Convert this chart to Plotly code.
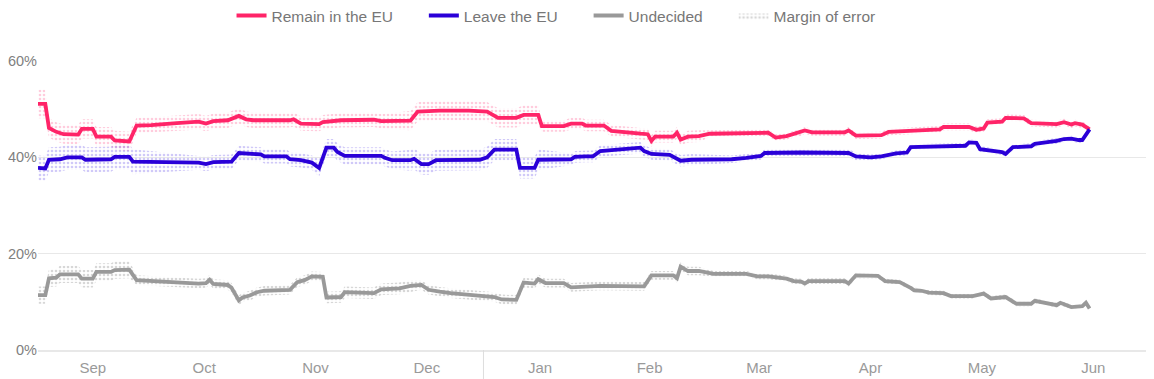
import plotly.graph_objects as go

# ---------------- data ----------------
remain_dates = ["2015-09-01","2015-09-03","2015-09-04","2015-09-06","2015-09-08","2015-09-12","2015-09-13","2015-09-16","2015-09-17","2015-09-21","2015-09-22","2015-09-26","2015-09-28","2015-10-02","2015-10-09","2015-10-15","2015-10-17","2015-10-19","2015-10-23","2015-10-26","2015-10-28","2015-10-30","2015-11-09","2015-11-10","2015-11-12","2015-11-17","2015-11-18","2015-11-23","2015-12-02","2015-12-04","2015-12-12","2015-12-14","2015-12-20","2015-12-28","2016-01-02","2016-01-05","2016-01-10","2016-01-12","2016-01-16","2016-01-17","2016-01-23","2016-01-25","2016-01-28","2016-01-29","2016-02-03","2016-02-05","2016-02-13","2016-02-15","2016-02-16","2016-02-17","2016-02-22","2016-02-23","2016-02-24","2016-02-26","2016-02-29","2016-03-03","2016-03-19","2016-03-21","2016-03-24","2016-03-28","2016-03-29","2016-03-31","2016-04-09","2016-04-10","2016-04-12","2016-04-19","2016-04-21","2016-05-05","2016-05-06","2016-05-13","2016-05-15","2016-05-17","2016-05-18","2016-05-22","2016-05-23","2016-05-28","2016-05-30","2016-06-06","2016-06-08","2016-06-10","2016-06-11","2016-06-13","2016-06-15"]
remain_vals = [51.1,51.1,46.1,45.3,44.8,44.7,45.9,45.9,44.3,44.3,43.5,43.3,46.6,46.7,47.1,47.4,47.0,47.5,47.7,48.6,47.9,47.7,47.7,47.9,47.0,46.9,47.3,47.7,47.8,47.5,47.6,49.5,49.7,49.7,49.5,48.2,48.2,48.8,48.8,46.5,46.5,47.0,47.0,46.6,46.6,45.5,44.9,44.8,43.4,44.3,44.3,45.1,43.7,44.3,44.4,44.9,45.1,44.1,44.4,45.2,45.6,45.2,45.2,45.6,44.5,44.6,45.3,45.8,46.3,46.3,45.7,46.0,47.2,47.4,48.2,48.1,47.1,46.9,47.3,46.8,47.1,46.8,45.8]

leave_dates = ["2015-09-01","2015-09-03","2015-09-04","2015-09-07","2015-09-09","2015-09-13","2015-09-14","2015-09-21","2015-09-22","2015-09-26","2015-09-27","2015-10-15","2015-10-17","2015-10-19","2015-10-24","2015-10-26","2015-11-01","2015-11-02","2015-11-08","2015-11-09","2015-11-12","2015-11-15","2015-11-17","2015-11-19","2015-11-21","2015-11-22","2015-11-24","2015-12-04","2015-12-05","2015-12-07","2015-12-12","2015-12-13","2015-12-15","2015-12-17","2015-12-19","2015-12-31","2016-01-02","2016-01-04","2016-01-10","2016-01-11","2016-01-15","2016-01-16","2016-01-25","2016-01-26","2016-01-29","2016-01-31","2016-02-02","2016-02-13","2016-02-14","2016-02-16","2016-02-21","2016-02-24","2016-02-27","2016-03-09","2016-03-13","2016-03-17","2016-03-18","2016-03-28","2016-04-10","2016-04-12","2016-04-16","2016-04-19","2016-04-23","2016-04-26","2016-04-27","2016-05-12","2016-05-13","2016-05-15","2016-05-16","2016-05-19","2016-05-22","2016-05-23","2016-05-25","2016-05-30","2016-05-31","2016-06-04","2016-06-06","2016-06-08","2016-06-10","2016-06-12","2016-06-13","2016-06-15"]
leave_vals = [37.8,37.7,39.5,39.6,40.0,40.0,39.5,39.6,40.1,40.1,39.1,38.9,38.6,39.0,39.1,40.9,40.6,40.2,40.2,39.6,39.4,38.9,37.8,42.0,42.0,41.1,40.3,40.3,39.9,39.4,39.4,39.7,38.6,38.6,39.4,39.5,40.0,41.6,41.6,37.8,37.8,39.5,39.6,40.1,40.2,40.2,41.3,42.0,41.3,40.7,40.5,39.3,39.5,39.6,39.9,40.3,40.9,41.0,40.9,40.2,40.0,40.2,40.8,41.0,42.1,42.4,43.1,43.0,41.7,41.4,41.1,40.7,42.1,42.3,42.8,43.2,43.4,43.8,43.9,43.6,43.6,45.8]

undecided_dates = ["2015-09-01","2015-09-03","2015-09-04","2015-09-06","2015-09-07","2015-09-12","2015-09-13","2015-09-16","2015-09-17","2015-09-21","2015-09-22","2015-09-26","2015-09-28","2015-10-06","2015-10-15","2015-10-17","2015-10-18","2015-10-19","2015-10-23","2015-10-24","2015-10-26","2015-10-27","2015-10-29","2015-10-31","2015-11-02","2015-11-09","2015-11-11","2015-11-13","2015-11-15","2015-11-18","2015-11-19","2015-11-23","2015-11-24","2015-12-02","2015-12-04","2015-12-09","2015-12-12","2015-12-15","2015-12-17","2015-12-20","2015-12-23","2016-01-04","2016-01-06","2016-01-10","2016-01-12","2016-01-15","2016-01-16","2016-01-18","2016-01-23","2016-01-25","2016-01-29","2016-02-02","2016-02-14","2016-02-16","2016-02-22","2016-02-23","2016-02-24","2016-02-26","2016-02-29","2016-03-04","2016-03-13","2016-03-16","2016-03-19","2016-03-24","2016-03-26","2016-03-28","2016-03-29","2016-03-30","2016-04-09","2016-04-10","2016-04-12","2016-04-18","2016-04-20","2016-04-24","2016-04-27","2016-04-28","2016-04-30","2016-05-02","2016-05-06","2016-05-08","2016-05-14","2016-05-17","2016-05-19","2016-05-23","2016-05-26","2016-05-30","2016-05-31","2016-06-03","2016-06-06","2016-06-07","2016-06-08","2016-06-10","2016-06-13","2016-06-14","2016-06-15"]
undecided_vals = [11.4,11.4,14.9,15.0,15.7,15.7,14.8,14.8,16.2,16.2,16.6,16.7,14.5,14.1,13.8,13.9,14.6,13.7,13.5,12.9,10.3,10.9,11.3,12.0,12.3,12.5,14.1,14.5,15.3,15.2,10.9,11.0,12.0,11.8,12.6,12.8,13.3,13.5,12.5,12.1,11.8,11.0,10.5,10.4,14.0,13.8,14.7,13.9,13.9,13.0,13.1,13.3,13.2,15.5,15.5,14.9,17.3,16.4,16.4,15.8,15.8,15.3,15.3,14.8,14.3,14.2,13.8,14.3,14.3,13.8,15.5,15.4,14.3,14.1,12.9,12.4,12.3,11.9,11.8,11.2,11.2,11.7,10.7,11.0,9.6,9.6,10.2,9.8,9.3,9.8,9.5,8.9,9.1,9.8,8.6]

# margin of error (+/- points), valid from each listed date onward
remain_moe_from = ["2015-09-01","2015-09-04","2015-09-28","2015-11-01","2015-12-10","2016-01-17","2016-03-01"]
remain_moe = [3.0, 2.0, 1.6, 1.5, 2.0, 1.2, 0.7]
leave_moe_from = ["2015-09-01","2015-09-28","2015-11-17","2015-12-10","2016-01-17","2016-03-01","2016-04-15"]
leave_moe = [2.6, 1.5, 1.8, 2.2, 1.2, 0.8, 0.6]
undecided_moe_from = ["2015-09-01","2015-09-28","2015-11-19","2015-12-15","2016-01-17","2016-03-01","2016-04-15"]
undecided_moe = [1.8, 1.0, 1.2, 1.0, 0.9, 0.6, 0.5]

month_ticks_start = "2015-09-01"
x_range = ["2015-09-01", "2016-07-01"]
y_ticks = [0, 20, 40, 60]
y_tick_text = ["0%", "20%", "40%", "60%"]

series_names = ["Remain in the EU", "Leave the EU", "Undecided", "Margin of error"]

# ---------------- styling ----------------
REMAIN = "#ff2468"
LEAVE = "#2a00d8"
UNDEC = "#999999"
FONT = "Liberation Sans, Arial, Helvetica, sans-serif"
PAD = "\u00a0" * 6  # extra spacing between legend entries


def moe_for(dates, from_dates, moes):
    out = []
    for d in dates:
        m = moes[0]
        for f, v in zip(from_dates, moes):
            if d >= f:
                m = v
        out.append(m)
    return out


def band(dates, vals, from_dates, moes, fg, name, show):
    m = moe_for(dates, from_dates, moes)
    up = [v + e for v, e in zip(vals, m)]
    lo = [v - e for v, e in zip(vals, m)]
    return go.Scatter(
        x=list(dates) + list(dates[::-1]),
        y=up + lo[::-1],
        fill="toself",
        mode="lines",
        line=dict(width=0, color="rgba(0,0,0,0)"),
        fillcolor="rgba(0,0,0,0)",
        fillpattern=dict(shape=".", fgcolor=fg, bgcolor="rgba(0,0,0,0)",
                         size=4, solidity=0.35),
        name=name,
        showlegend=show,
        legendrank=4,
        hoverinfo="skip",
    )


fig = go.Figure()
fig.add_trace(band(remain_dates, remain_vals, remain_moe_from, remain_moe,
                   "rgba(255,120,165,0.75)", "Margin (Remain)", False))
fig.add_trace(band(leave_dates, leave_vals, leave_moe_from, leave_moe,
                   "rgba(120,100,235,0.7)", "Margin (Leave)", False))
fig.add_trace(band(undecided_dates, undecided_vals, undecided_moe_from, undecided_moe,
                   "rgba(150,150,150,0.75)", series_names[3], True))

fig.add_trace(go.Scatter(x=remain_dates, y=remain_vals, mode="lines",
                         line=dict(color=REMAIN, width=3.8), name=series_names[0] + PAD,
                         legendrank=1))
fig.add_trace(go.Scatter(x=leave_dates, y=leave_vals, mode="lines",
                         line=dict(color=LEAVE, width=3.8), name=series_names[1] + PAD,
                         legendrank=2))
fig.add_trace(go.Scatter(x=undecided_dates, y=undecided_vals, mode="lines",
                         line=dict(color=UNDEC, width=3.8), name=series_names[2] + PAD,
                         legendrank=3))

fig.update_layout(
    width=1146, height=371,
    margin=dict(l=30, r=6, t=53, b=29, autoexpand=False),
    paper_bgcolor="white", plot_bgcolor="white",
    font=dict(family=FONT, color="#777777", size=15),
    showlegend=True,
    legend=dict(orientation="h", x=0.4667, xanchor="center", y=1.156, yanchor="middle",
                font=dict(size=15.5, color="#777777"), bgcolor="rgba(0,0,0,0)",
                itemwidth=30, traceorder="normal"),
    xaxis=dict(
        type="date", range=x_range, tick0=month_ticks_start, dtick="M1",
        tickformat="%b", ticklabelmode="period",
        ticks="", ticklabelstandoff=3,
        minor=dict(ticks="outside", ticklen=24, tickcolor="#dddddd", tickwidth=1,
                   dtick="M1", tick0=month_ticks_start, showgrid=False),
        showgrid=False, zeroline=False,
        showline=True, linecolor="#e8e8e8", linewidth=2,
        tickfont=dict(size=15, color="#9a9a9a"),
        automargin=False, fixedrange=True,
    ),
    yaxis=dict(
        range=[0, 60], tickvals=y_ticks, ticktext=y_tick_text,
        showgrid=True, gridcolor="#e8e8e8", gridwidth=1,
        zeroline=False, showline=False, ticks="", ticklabelstandoff=0,
        tickfont=dict(size=14.5, color="#808080"),
        automargin=False, fixedrange=True,
    ),
    shapes=[dict(type="line", xref="x", yref="paper", x0="2016-01-01", x1="2016-01-01",
                 y0=0, y1=-0.15, line=dict(color="#dddddd", width=1))],
)

fig.write_html("out.html")
